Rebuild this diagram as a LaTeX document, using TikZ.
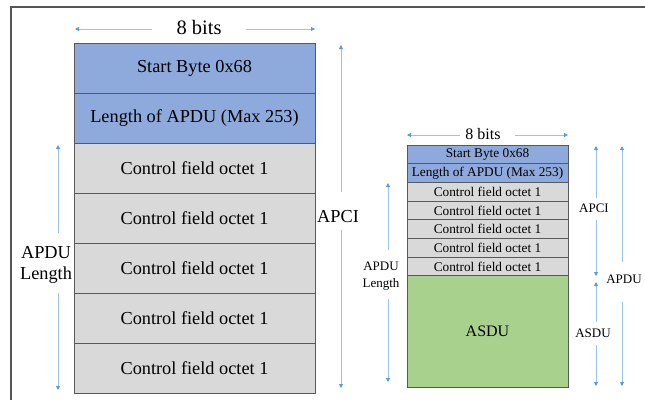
\documentclass[tikz,border=0pt]{standalone}
\usepackage{fontspec}
\setmainfont{Liberation Serif}
\usetikzlibrary{arrows.meta}
\definecolor{hdrblue}{HTML}{8EA9DB}
\definecolor{ctlgray}{HTML}{D9D9D9}
\definecolor{asdugreen}{HTML}{A9D18E}
\definecolor{edgegray}{HTML}{595959}
\definecolor{dimline}{HTML}{9DC3E6}
\definecolor{dimtip}{HTML}{5B9BD5}
\definecolor{framegray}{HTML}{555555}
\begin{document}
\begin{tikzpicture}[x=1pt,y=-1pt,
  bigrow/.style={draw=edgegray, line width=1pt, minimum width=241pt, minimum height=50pt, inner sep=0pt, outer sep=0pt, anchor=north west, font=\fontsize{18.3}{20}\selectfont},
  smallrow/.style={draw=edgegray, line width=0.9pt, minimum width=161pt, minimum height=18.7pt, inner sep=0pt, outer sep=0pt, anchor=north west, font=\fontsize{13.3}{15}\selectfont},
  dim/.style={draw=dimline, line width=0.8pt, -{Triangle[width=4pt,length=4pt,color=dimtip]}},
  biglabel/.style={font=\fontsize{18.3}{21}\selectfont, inner sep=0pt, align=center},
  smalllabel/.style={font=\fontsize{13}{17}\selectfont, inner sep=0pt, align=center}]
\useasboundingbox (0,0) rectangle (645,400);
\draw[framegray, line width=1.5pt] (11,400) -- (11,7) -- (645,7);

% ---------- left (large) frame ----------
\node[bigrow, fill=hdrblue] (L1) at (74,43) {Start Byte 0x68};
\node[bigrow, fill=hdrblue] (L2) at (74,93) {Length of APDU (Max 253)};
\node[bigrow, fill=ctlgray] (L3) at (74,143) {Control field octet 1};
\node[bigrow, fill=ctlgray] (L4) at (74,193) {Control field octet 1};
\node[bigrow, fill=ctlgray] (L5) at (74,243) {Control field octet 1};
\node[bigrow, fill=ctlgray] (L6) at (74,293) {Control field octet 1};
\node[bigrow, fill=ctlgray] (L7) at (74,343) {Control field octet 1};

\node[biglabel, font=\fontsize{20.5}{22}\selectfont] (bitsL) at (199,27) {8 bits};
\coordinate (bitsLa) at (152,29); \coordinate (bitsLb) at (75,29);
\coordinate (bitsLc) at (246,29); \coordinate (bitsLd) at (315,29);
\draw[dim] (bitsLa) -- (bitsLb);
\draw[dim] (bitsLc) -- (bitsLd);

\node[biglabel] (apciL) at (338,217) {APCI};
\coordinate (apciLa) at (341,192); \coordinate (apciLb) at (341,45);
\coordinate (apciLc) at (341,230); \coordinate (apciLd) at (341,388);
\draw[dim] (apciLa) -- (apciLb);
\draw[dim] (apciLc) -- (apciLd);

\node[biglabel] (lenL) at (46,265) {APDU\\Length};
\coordinate (lenLa) at (58,233); \coordinate (lenLb) at (58,145);
\coordinate (lenLc) at (58,293); \coordinate (lenLd) at (58,390);
\draw[dim] (lenLa) -- (lenLb);
\draw[dim] (lenLc) -- (lenLd);

% ---------- right (small) frame ----------
\node[smallrow, fill=hdrblue] (R1) at (407,145) {Start Byte 0x68};
\node[smallrow, fill=hdrblue] (R2) at (407,163.7) {Length of APDU (Max 253)};
\node[smallrow, fill=ctlgray] (R3) at (407,182.4) {Control field octet 1};
\node[smallrow, fill=ctlgray] (R4) at (407,201.1) {Control field octet 1};
\node[smallrow, fill=ctlgray] (R5) at (407,219.8) {Control field octet 1};
\node[smallrow, fill=ctlgray] (R6) at (407,238.5) {Control field octet 1};
\node[smallrow, fill=ctlgray] (R7) at (407,257.2) {Control field octet 1};
\node[smallrow, fill=asdugreen, minimum height=111.1pt, font=\fontsize{16}{18}\selectfont] (R8) at (407,275.9) {ASDU};

\node[smalllabel, font=\fontsize{16}{18}\selectfont] (bitsR) at (483,134) {8 bits};
\coordinate (bitsRa) at (460,135); \coordinate (bitsRb) at (407,135);
\coordinate (bitsRc) at (515,135); \coordinate (bitsRd) at (568,135);
\draw[dim] (bitsRa) -- (bitsRb);
\draw[dim] (bitsRc) -- (bitsRd);

\node[smalllabel] (apciR) at (594,208) {APCI};
\coordinate (apciRa) at (596,198); \coordinate (apciRb) at (596,146);
\coordinate (apciRc) at (596,220); \coordinate (apciRd) at (596,276);
\draw[dim] (apciRa) -- (apciRb);
\draw[dim] (apciRc) -- (apciRd);

\node[smalllabel] (asduR) at (593,333) {ASDU};
\coordinate (asduRa) at (596,322); \coordinate (asduRb) at (596,282);
\coordinate (asduRc) at (596,345); \coordinate (asduRd) at (596,386);
\draw[dim] (asduRa) -- (asduRb);
\draw[dim] (asduRc) -- (asduRd);

\node[smalllabel] (apduR) at (624,279) {APDU};
\coordinate (apduRa) at (622,262); \coordinate (apduRb) at (622,146);
\coordinate (apduRc) at (622,302); \coordinate (apduRd) at (622,386);
\draw[dim] (apduRa) -- (apduRb);
\draw[dim] (apduRc) -- (apduRd);

\node[smalllabel] (lenR) at (381,276) {APDU\\Length};
\coordinate (lenRa) at (388,250); \coordinate (lenRb) at (388,183);
\coordinate (lenRc) at (388,299); \coordinate (lenRd) at (388,382);
\draw[dim] (lenRa) -- (lenRb);
\draw[dim] (lenRc) -- (lenRd);
\end{tikzpicture}
\end{document}
